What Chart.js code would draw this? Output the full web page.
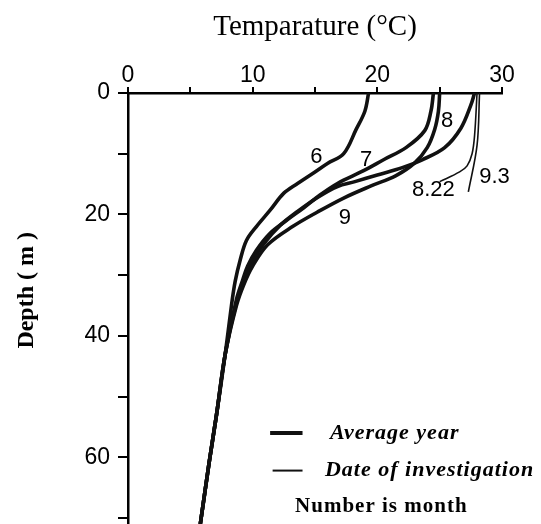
<!DOCTYPE html>
<html><head><meta charset="utf-8">
<script src="https://cdn.jsdelivr.net/npm/chart.js@4/dist/chart.umd.min.js"></script>
<style>html,body{margin:0;padding:0;background:#fff;}#wrap{width:541px;height:524px;}</style>
</head><body><div id="wrap"><canvas id="c" width="541" height="524"></canvas></div>
<script>
// ---- data (temperature °C vs depth m) ----
const depth6 = [0, 3, 6, 10, 11.6, 13, 14.9, 16.5, 19.3, 22, 24.3, 27.5, 31, 35, 43, 53, 61, 71];
const temp6  = [19.3, 19.0, 18.3, 17.3, 16.0, 15.0, 13.6, 12.5, 11.4, 10.3, 9.5, 9.0, 8.6, 8.3, 7.8, 7.1, 6.5, 5.8];
const depth7 = [0, 3, 6.2, 9, 11, 12.8, 14.9, 16.8, 18.9, 21, 23.1, 25.9, 28.5, 30.8, 34, 43, 53, 61, 71];
const temp7  = [24.5, 24.3, 23.8, 22.3, 20.5, 18.9, 16.8, 15.4, 14.1, 12.7, 11.4, 10.3, 9.6, 9.2, 8.7, 7.8, 7.1, 6.5, 5.8];
const depth8 = [0, 2, 5.8, 9, 11, 12.3, 13.5, 14.6, 15.4, 17.2, 19.5, 21.8, 24.8, 28, 31, 34.5, 43, 53, 61, 71];
const temp8  = [27.8, 27.5, 26.7, 25.4, 23.6, 22.0, 20.0, 18.2, 16.8, 15.2, 13.6, 12.2, 10.9, 9.9, 9.3, 8.7, 7.8, 7.1, 6.5, 5.8];
const depth9 = [0, 3, 6, 9, 11.5, 13.6, 15.3, 17.3, 19.6, 22, 25, 28.5, 31.5, 35, 43, 53, 61, 71];
const temp9  = [25.0, 24.9, 24.6, 24.0, 23.0, 21.5, 19.5, 17.3, 15.2, 13.2, 11.2, 10.0, 9.3, 8.7, 7.8, 7.1, 6.5, 5.8];
const depth822 = [0, 7, 10, 12, 13, 14.6];
const temp822  = [28.0, 27.8, 27.6, 27.2, 26.6, 25.0];
const depth93 = [0, 8.6, 16.3];
const temp93  = [28.2, 28.0, 27.3];

const xTickLabels = [0, 10, 20, 30];
const yTickLabels = [0, 20, 40, 60];
const curveLabels = ['6', '7', '8', '9', '8.22', '9.3'];
const labelTemp   = [15.1, 19.1, 25.6, 17.4, 24.5, 29.4];
const labelDepth  = [10.5, 11.0, 4.6, 20.6, 16.0, 13.8];
const legendTexts = ['Average year', 'Date of investigation', 'Number is month'];

const pts = (t, d) => t.map((v, i) => ({x: v, y: d[i]}));
const thick = {borderColor: '#111', borderWidth: 3.6, showLine: true, pointRadius: 0, tension: 0.35, fill: false};
const thin  = {borderColor: '#111', borderWidth: 1.6, showLine: true, pointRadius: 0, tension: 0.35, fill: false};

const labelsPlugin = {
  id: 'labels',
  afterDatasetsDraw(chart) {
    const {ctx, scales: {x, y}} = chart;
    ctx.save();
    ctx.fillStyle = '#000';
    ctx.font = '22px "Liberation Sans"';
    ctx.textAlign = 'center';
    ctx.textBaseline = 'middle';
    curveLabels.forEach((t, i) => ctx.fillText(t, x.getPixelForValue(labelTemp[i]), y.getPixelForValue(labelDepth[i])));
    // y axis title
    ctx.save();
    ctx.translate(27, y.getPixelForValue(32.5));
    ctx.rotate(-Math.PI / 2);
    ctx.font = 'bold 24px "Liberation Serif"';
    ctx.fillText('Depth ( m )', 0, 0);
    ctx.restore();
    // legend
    ctx.textAlign = 'left';
    ctx.letterSpacing = '1px';
    ctx.lineCap = 'butt';
    const rows = [
      {lw: 4, x0: 11.4, x1: 14.0, d: 56.0, tx: 16.2, font: 'bold italic 22px "Liberation Serif"'},
      {lw: 2, x0: 11.6, x1: 14.0, d: 62.2, tx: 15.8, font: 'bold italic 22px "Liberation Serif"'},
      {lw: 0, x0: 0, x1: 0, d: 68.2, tx: 13.4, font: 'bold 21px "Liberation Serif"'}
    ];
    rows.forEach((r, i) => {
      const py = y.getPixelForValue(r.d);
      if (r.lw) {
        ctx.beginPath();
        ctx.lineWidth = r.lw;
        ctx.strokeStyle = '#111';
        ctx.moveTo(x.getPixelForValue(r.x0), py);
        ctx.lineTo(x.getPixelForValue(r.x1), py);
        ctx.stroke();
      }
      ctx.font = r.font;
      ctx.fillText(legendTexts[i], x.getPixelForValue(r.tx), py);
    });
    ctx.restore();
  }
};

new Chart(document.getElementById('c'), {
  type: 'scatter',
  data: {
    datasets: [
      {label: '6', data: pts(temp6, depth6), ...thick},
      {label: '7', data: pts(temp7, depth7), ...thick},
      {label: '8', data: pts(temp8, depth8), ...thick},
      {label: '9', data: pts(temp9, depth9), ...thick},
      {label: '8.22', data: pts(temp822, depth822), ...thin},
      {label: '9.3', data: pts(temp93, depth93), ...thin}
    ]
  },
  options: {
    responsive: false,
    animation: false,
    devicePixelRatio: 1,
    layout: {padding: {left: 0, right: 39, top: 0, bottom: 0}},
    plugins: {legend: {display: false}, tooltip: {enabled: false}},
    scales: {
      x: {
        type: 'linear', position: 'top', min: 0, max: 30,
        ticks: {stepSize: 5, autoSkip: false, maxRotation: 0, padding: -2, color: '#000',
          font: {family: '"Liberation Sans"', size: 23},
          callback: v => xTickLabels.includes(v) ? String(v) : ''},
        grid: {drawOnChartArea: false, drawTicks: true, tickLength: 6, color: '#000', lineWidth: 2},
        border: {display: true, color: '#000', width: 2.5},
        title: {display: true, text: 'Temparature (°C)', color: '#000',
          font: {family: '"Liberation Serif"', size: 29}, padding: {top: 10, bottom: 0}},
        afterFit: s => { s.height = 93; s.paddingLeft = 0; s.paddingRight = 0; }
      },
      y: {
        type: 'linear', reverse: true, min: 0, max: 71,
        ticks: {stepSize: 10, includeBounds: false, autoSkip: false, padding: 8, color: '#000',
          font: {family: '"Liberation Sans"', size: 23},
          callback: v => yTickLabels.includes(v) ? String(v) : ''},
        grid: {drawOnChartArea: false, drawTicks: true, tickLength: 10, color: '#000', lineWidth: 2},
        border: {display: true, color: '#000', width: 2.5},
        afterFit: s => { s.width = 128; s.paddingTop = 0; s.paddingBottom = 0; }
      }
    }
  },
  plugins: [labelsPlugin]
});
</script></body></html>
